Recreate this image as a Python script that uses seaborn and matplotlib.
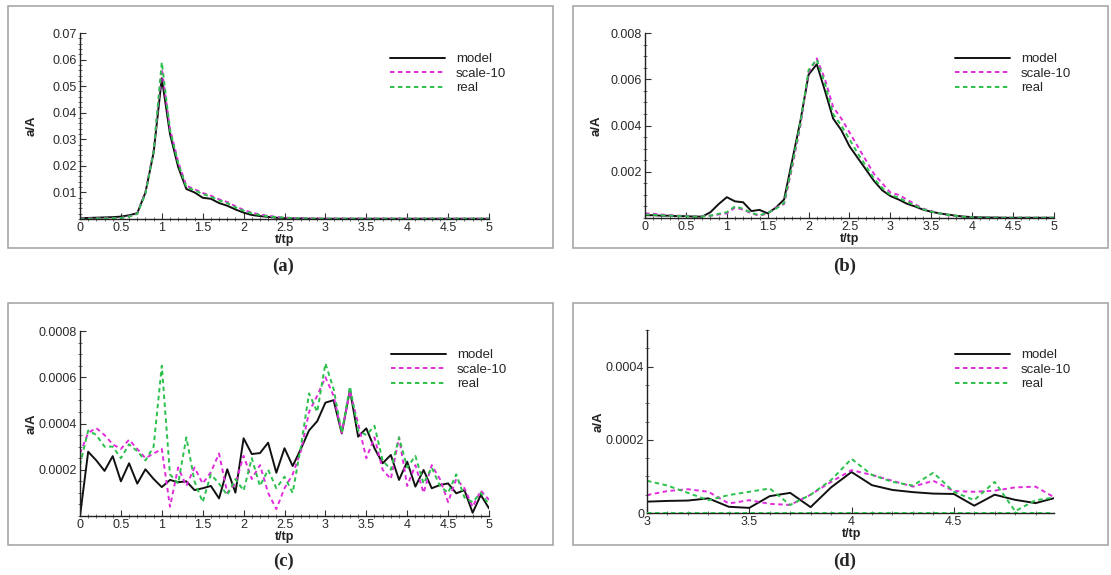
import numpy as np
import pandas as pd
import matplotlib
matplotlib.use("Agg")
import matplotlib.pyplot as plt
import seaborn as sns
from matplotlib.ticker import MultipleLocator, FixedLocator, FuncFormatter
from matplotlib.patches import Rectangle

# ---------------------------------------------------------------- data
series_names = ["model", "scale-10", "real"]

t_full = np.linspace(0.0, 5.0, 51)      # t/tp sampling for panels (a)-(c)
t_late = np.linspace(3.0, 5.0, 21)      # t/tp sampling for panel (d)

model_a = [0.0003, 0.0004, 0.0005, 0.0006, 0.0007, 0.0009, 0.0014, 0.0022, 0.0100, 0.0250,
           0.0530, 0.0320, 0.0196, 0.0113, 0.0100, 0.0080, 0.0076, 0.0060, 0.0050, 0.0036,
           0.0024, 0.0015, 0.0011, 0.0008, 0.0005, 0.0003, 0.0002, 0.0002, 0.0001, 0.0001,
           0.0001, 0.0001, 0.0001, 0.0001, 0.0001, 0.0001, 0.0001, 0.0001, 0.0001, 0.0001,
           0.0001, 0.0001, 0.0001, 0.0001, 0.0001, 0.0001, 0.0001, 0.0001, 0.0001, 0.0001,
           0.0001]
scale_a = [0.0002, 0.0002, 0.0002, 0.0003, 0.0003, 0.0004, 0.0010, 0.0020, 0.0100, 0.0260,
           0.0565, 0.0340, 0.0215, 0.0125, 0.0112, 0.0098, 0.0088, 0.0074, 0.0064, 0.0048,
           0.0034, 0.0024, 0.0017, 0.0012, 0.0008, 0.0005, 0.0004, 0.0003, 0.0002, 0.0002,
           0.0001, 0.0001, 0.0001, 0.0001, 0.0001, 0.0001, 0.0001, 0.0001, 0.0001, 0.0001,
           0.0001, 0.0001, 0.0001, 0.0001, 0.0001, 0.0001, 0.0001, 0.0001, 0.0001, 0.0001,
           0.0001]
real_a = [0.0001, 0.0001, 0.0002, 0.0002, 0.0003, 0.0004, 0.0009, 0.0019, 0.0095, 0.0255,
          0.0590, 0.0335, 0.0210, 0.0120, 0.0108, 0.0094, 0.0084, 0.0070, 0.0060, 0.0044,
          0.0031, 0.0021, 0.0015, 0.0010, 0.0007, 0.0005, 0.0003, 0.0002, 0.0002, 0.0001,
          0.0001, 0.0001, 0.0001, 0.0001, 0.0001, 0.0001, 0.0001, 0.0001, 0.0001, 0.0001,
          0.0001, 0.0001, 0.0001, 0.0001, 0.0001, 0.0001, 0.0001, 0.0001, 0.0001, 0.0001,
          0.0001]

model_b = [0.00012, 0.00012, 0.00010, 0.00010, 0.00008, 0.00008, 0.00006, 0.00006, 0.00025, 0.00060,
           0.00090, 0.00072, 0.00068, 0.00030, 0.00035, 0.00020, 0.00045, 0.00080, 0.00250, 0.00420,
           0.00620, 0.00665, 0.00550, 0.00430, 0.00380, 0.00310, 0.00260, 0.00210, 0.00160, 0.00120,
           0.00095, 0.00080, 0.00062, 0.00050, 0.00036, 0.00027, 0.00020, 0.00015, 0.00010, 0.00006,
           0.00004, 0.00003, 0.00002, 0.00002, 0.00001, 0.00001, 0.00001, 0.00001, 0.00001, 0.00001,
           0.00001]
scale_b = [0.00020, 0.00018, 0.00015, 0.00012, 0.00010, 0.00010, 0.00008, 0.00008, 0.00010, 0.00015,
           0.00020, 0.00045, 0.00036, 0.00020, 0.00010, 0.00020, 0.00045, 0.00060, 0.00220, 0.00400,
           0.00630, 0.00690, 0.00600, 0.00480, 0.00430, 0.00370, 0.00310, 0.00250, 0.00190, 0.00150,
           0.00110, 0.00100, 0.00080, 0.00060, 0.00040, 0.00030, 0.00020, 0.00012, 0.00008, 0.00005,
           0.00003, 0.00002, 0.00002, 0.00001, 0.00001, 0.00001, 0.00001, 0.00001, 0.00001, 0.00001,
           0.00001]
real_b = [0.00015, 0.00014, 0.00012, 0.00010, 0.00009, 0.00008, 0.00007, 0.00007, 0.00010, 0.00018,
          0.00025, 0.00050, 0.00040, 0.00022, 0.00012, 0.00022, 0.00040, 0.00065, 0.00230, 0.00410,
          0.00640, 0.00685, 0.00580, 0.00450, 0.00400, 0.00340, 0.00280, 0.00225, 0.00170, 0.00130,
          0.00100, 0.00088, 0.00070, 0.00055, 0.00038, 0.00028, 0.00020, 0.00013, 0.00009, 0.00005,
          0.00003, 0.00002, 0.00002, 0.00001, 0.00001, 0.00001, 0.00001, 0.00001, 0.00001, 0.00001,
          0.00001]

model_c = [0.0, 0.000278, 0.000240, 0.000195, 0.000259, 0.000150, 0.000228, 0.000140, 0.000202, 0.000160,
           0.000125, 0.000156, 0.000146, 0.000150, 0.000112, 0.000120, 0.000130, 0.000076, 0.000202, 0.000101,
           0.000336, 0.000268, 0.000272, 0.000317, 0.000187, 0.000293, 0.000216, 0.000290, 0.000370, 0.000410,
           0.000490, 0.000501, 0.000357, 0.000545, 0.000343, 0.000379, 0.000293, 0.000228, 0.000264, 0.000156,
           0.000235, 0.000127, 0.000199, 0.000120, 0.000134, 0.000141, 0.000098, 0.000112, 0.000014, 0.000091,
           0.000033]
scale_c = [0.00027, 0.00036, 0.00038, 0.00035, 0.00031, 0.00029, 0.00033, 0.00029, 0.00025, 0.00027,
           0.00029, 0.00004, 0.00021, 0.00013, 0.00021, 0.00014, 0.00019, 0.00027, 0.00010, 0.00014,
           0.00026, 0.00016, 0.00022, 0.00010, 0.00003, 0.00012, 0.00018, 0.00028, 0.00045, 0.00052,
           0.00060, 0.00052, 0.00036, 0.00054, 0.00040, 0.00025, 0.00034, 0.00020, 0.00016, 0.00034,
           0.00013, 0.00022, 0.00010, 0.00022, 0.00016, 0.00006, 0.00016, 0.00012, 0.00004, 0.00011,
           0.00007]
real_c = [0.00022, 0.00037, 0.00035, 0.00030, 0.00030, 0.00025, 0.00031, 0.00028, 0.00024, 0.00030,
          0.00065, 0.00018, 0.00014, 0.00034, 0.00015, 0.00006, 0.00018, 0.00014, 0.00009, 0.00016,
          0.00011, 0.00025, 0.00013, 0.00020, 0.00012, 0.00017, 0.00010, 0.00030, 0.00053, 0.00045,
          0.00066, 0.00055, 0.00036, 0.00056, 0.00037, 0.00035, 0.00039, 0.00024, 0.00020, 0.00034,
          0.00021, 0.00026, 0.00014, 0.00021, 0.00013, 0.00010, 0.00018, 0.00008, 0.00006, 0.00010,
          0.00005]

model_d = [0.000031, 0.000033, 0.000034, 0.000040, 0.000017, 0.000014, 0.000046, 0.000055, 0.000016, 0.000070,
           0.000112, 0.000076, 0.000063, 0.000057, 0.000053, 0.000052, 0.000020, 0.000050, 0.000036, 0.000027,
           0.000042]
scale_d = [0.000049, 0.000060, 0.000065, 0.000058, 0.000026, 0.000035, 0.000025, 0.000022, 0.000050, 0.000085,
           0.000117, 0.000104, 0.000088, 0.000072, 0.000088, 0.000060, 0.000058, 0.000061, 0.000070, 0.000072,
           0.000040]
real_d = [0.000088, 0.000075, 0.000055, 0.000035, 0.000049, 0.000058, 0.000067, 0.000022, 0.000050, 0.000090,
          0.000148, 0.000104, 0.000085, 0.000075, 0.000110, 0.000058, 0.000035, 0.000085, 0.000005, 0.000035,
          0.000043]

xticks_full = [0, 0.5, 1, 1.5, 2, 2.5, 3, 3.5, 4, 4.5, 5]
xticks_late = [3, 3.5, 4, 4.5]
yticks_a = [0.01, 0.02, 0.03, 0.04, 0.05, 0.06, 0.07]
yticks_b = [0.002, 0.004, 0.006, 0.008]
yticks_c = [0.0002, 0.0004, 0.0006, 0.0008]
yticks_d = [0, 0.0002, 0.0004]
panel_tags = ["(a)", "(b)", "(c)", "(d)"]

# ---------------------------------------------------------------- style
sns.set_theme(style="white")
plt.rcParams["font.family"] = ["Liberation Sans", "DejaVu Sans"]

palette = {"model": "#111111", "scale-10": "#e02cdc", "real": "#2cc04c"}
dash_map = {"model": "", "scale-10": (2.3, 1.8), "real": (2.3, 1.8)}

W, H = 1111, 575
fig = plt.figure(figsize=(W / 100, H / 100), dpi=100)
fig.patch.set_facecolor("white")


def box(x0, y0, x1, y1):
    """Pixel box (top-left origin) -> figure-fraction rect."""
    return [x0 / W, 1 - y1 / H, (x1 - x0) / W, (y1 - y0) / H]


def fmt(v, _pos):
    return f"{round(v, 6):g}"


panels = [
    dict(t=t_full, vals=(model_a, scale_a, real_a), ax=(80, 33, 489, 219), frame=(8, 6, 553, 248),
         xlim=(0, 5), ylim=(0, 0.07), xt=xticks_full, yt=yticks_a, ymin=0.002,
         leg=(390, 53), tag=(283, 266), xlab=0.5),
    dict(t=t_full, vals=(model_b, scale_b, real_b), ax=(645, 33, 1054, 218), frame=(573, 6, 1108, 248),
         xlim=(0, 5), ylim=(0, 0.008), xt=xticks_full, yt=yticks_b, ymin=0.0005,
         leg=(955, 53), tag=(845, 266), xlab=0.5),
    dict(t=t_full, vals=(model_c, scale_c, real_c), ax=(80, 331, 489, 516), frame=(8, 303, 553, 545),
         xlim=(0, 5), ylim=(0, 0.0008), xt=xticks_full, yt=yticks_c, ymin=0.00005,
         leg=(391, 349), tag=(283, 561), xlab=0.5),
    dict(t=t_late, vals=(model_d, scale_d, real_d), ax=(647, 330, 1054, 513), frame=(573, 303, 1108, 545),
         xlim=(3, 4.99), ylim=(0, 0.0005), xt=xticks_late, yt=yticks_d, ymin=0.00005,
         leg=(955, 349), tag=(845, 561), xlab=(4 - 3) / 1.99),
]

for p, tag in zip(panels, panel_tags):
    # light frame around each panel
    fx0, fy0, fx1, fy1 = p["frame"]
    r = box(fx0, fy0, fx1, fy1)
    fig.add_artist(Rectangle((r[0], r[1]), r[2], r[3], transform=fig.transFigure,
                             fill=False, ec="#a0a0a0", lw=1.1))

    ax = fig.add_axes(box(*p["ax"]))
    n = len(p["t"])
    df = pd.DataFrame({
        "t/tp": np.tile(p["t"], 3),
        "a/A": np.concatenate([np.asarray(v, float) for v in p["vals"]]),
        "series": np.repeat(series_names, n),
    })
    sns.lineplot(data=df, x="t/tp", y="a/A", hue="series", style="series",
                 hue_order=series_names, style_order=series_names,
                 palette=palette, dashes=dash_map, lw=1.4, sort=False,
                 estimator=None, ax=ax)

    if tag == "(d)":
        ax.axhline(0, color=palette["real"], lw=1.4, dashes=(2.3, 1.8), zorder=3)

    ax.set_xlim(*p["xlim"])
    ax.set_ylim(*p["ylim"])
    ax.set_facecolor("white")
    for s in ("top", "right"):
        ax.spines[s].set_visible(False)
    for s in ("left", "bottom"):
        ax.spines[s].set_color("#222222")
        ax.spines[s].set_linewidth(1.0)

    ax.xaxis.set_major_locator(FixedLocator(p["xt"]))
    ax.yaxis.set_major_locator(FixedLocator(p["yt"]))
    ax.xaxis.set_minor_locator(MultipleLocator(0.1))
    ax.yaxis.set_minor_locator(MultipleLocator(p["ymin"]))
    ax.xaxis.set_major_formatter(FuncFormatter(fmt))
    ax.yaxis.set_major_formatter(FuncFormatter(fmt))
    ax.tick_params(which="major", direction="in", length=4, width=0.8, color="#333333",
                   labelsize=9, labelcolor="#2a2a2a", pad=2, bottom=True, left=True)
    ax.tick_params(which="minor", direction="inout", length=3, width=0.6, color="#555555",
                   bottom=True, left=True)

    ax.set_ylabel("a/A", fontsize=9.5, fontweight="bold", color="#222222", va="center")
    ax.yaxis.set_label_coords(-48 / (p["ax"][2] - p["ax"][0]), 0.5)
    ax.set_xlabel("t/tp", fontsize=9, fontweight="bold", color="#222222", va="center")
    ax.xaxis.set_label_coords(p["xlab"], -21 / (p["ax"][3] - p["ax"][1]))

    handles, labels = ax.get_legend_handles_labels()
    lx, ly = p["leg"]
    ax.legend(handles, labels, loc="upper left",
              bbox_to_anchor=(lx / W, 1 - ly / H), bbox_transform=fig.transFigure,
              frameon=False, fontsize=9.5, handlelength=4.2, handletextpad=0.8,
              labelspacing=0.18, borderpad=0, borderaxespad=0)

    fig.text(p["tag"][0] / W, 1 - p["tag"][1] / H, tag, ha="center", va="center",
             fontsize=13.5, fontweight="bold", family=["Liberation Serif", "DejaVu Serif"])

fig.savefig("out.png", dpi=100, facecolor="white")
